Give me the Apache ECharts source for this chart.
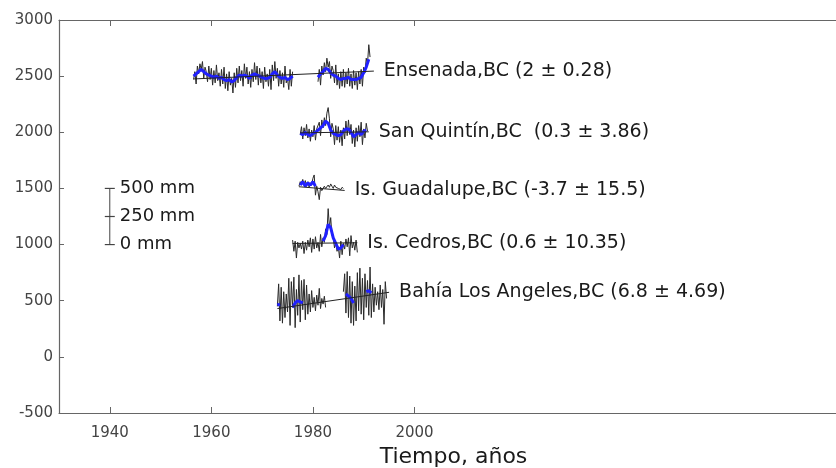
<!DOCTYPE html>
<html>
<head>
<meta charset="utf-8">
<script src="https://cdn.jsdelivr.net/npm/echarts@6/dist/echarts.min.js"></script>
<style>
  html, body { margin: 0; padding: 0; background: #fff; }
  #chart { width: 836px; height: 468px; }
</style>
</head>
<body>
<div id="chart"></div>
<script>
function gap(n) { return new Array(n).fill(null); }

// anomalias en mm, paso trimestral (negro) y semestral (azul)
const ensenadaRaw = [
  -30, 40,
  -70, 90, 20, 110,   60, 130, -20, 80,   40, -50, 90, -30,   70, -80, 50, -60,
  100, -40, 30, -90,  60, -70, 80, -110,  20, -130, 40, -80,  -20, -150, 30, -100,
  70, -60, 90, -40,   50, -90, 110, -20,  80, -70, 40, -100,  60, -50, 120, -30,
  90, -80, 70, -60,   40, -110, 80, -50, 20, -90, 60, -120,  100, -40, 130, -20,
  70, -90, 50, -70,   30, -100, 90, -60, -20, -120, 60, -90,
  40,
  ...gap(19),
  -50, 60, -80, 90,   10, 120, 40, 160,  80, 130, -20, 90,   50, -60, 100, -80,
  20, -110, 40, -90,  60, -100, 30, -70, 70, -90, 20, -110,  50, -80, 30, -120,
  40, -70, 60, -90,   80, 30, 160, 110,
  280, 170
];
const ensenadaSmooth = [
  0,
  20, 40,  60, 40,  20, 10,  0, -10,  0, -20,  -10, -30,  -40, -30,  -50, -40,
  -10, 10,  0, 10,  0, -20,  10, 20,  10, 0,  -10, -20,  -20, -10,  20, 40,
  10, -10,  -20, -10,  -30, -20,
  0,
  ...gap(9),
  -10, 20,  40, 70,  60, 30,  10, 0,  -20, -30,  -20, -20,  -10, -30,  -30, -30,
  -20, -10,  30, 80,
  150
];

const quintinRaw = [
  -20, 50,
  -60, 40, -30, 70,   -50, 30, -80, 20,  -40, 60, -70, 30,   20, 90, -30, 110,
  40, 130, 60, 170,   220, 120, -40, 80, 30, -110, 60, -70,  50, -90, 20, -120,
  40, -60, 100, -30,  110, -20, 70, -100, 20, -130, 40, -80, 60, -40, 90, -110,
  30, -50, 80, 10
];
const quintinSmooth = [
  -10,
  -20, 0,  -20, -30,  -10, 0,  20, 40,  60, 100,  80, 20,  -10, -20,
  -30, -20,  10, 30,  30, 0,  -40, -20,  0, -20,  10, 20
];

const guadalupeRaw = [
  20, 60, 40,
  80, 30, 70, 20,   60, 10, 50, 30,   90, 120, -60, 20,  -30, -100, 10, -20,
  -10, 20, 0, 10,   30, 10, 40, 20,   0, 30, 10, 20,     0, 10, -10, 10,
  0
];
const guadalupeSmooth = [30, 60, 20, 50, 30, 60, 20];

const cedrosRaw = [
  40, -60, 30, -120,  20, -30, 10, -40,  30, -80, 20, -50,  40, -20, 60, -70,
  50, -40, 70, -30,   20, -60, 90, -20,  60, 20, 140, 90,   320, 150, 240, 80,
  60, -30, 20, -60,   -20, -120, 30, -90, 10, -40, 50, -20, 60, -100, 80, -30,
  20, -50, 40, -70
];
const cedrosSmooth = [30, 80, 180, 150, 60, 10, -40, -30, 0];

const bahiaRaw = [
  -50, 150, -180, 120,  -200, 80, -150, 60,  -100, 200, -220, 170,
  -60, 210, -240, 100,  -130, 230, -190, 180, -80, 190, -170, 140,
  -120, 60, -100, 90,   -60, 30, -90, 50,    -40, 110, -70, 20,
  -30, 40, -60,
  ...gap(13),
  80, 240, -110, 260,   -150, 220, -200, 170, -220, 130, -180, 250,
  -90, 290, -120, 200,  -170, 240, -60, 180,  -130, 300, -150, 150,
  -100, 120, -40, 80,   -80, 140, -60, 100,
  -210, 170, 20
];
const bahiaSmooth = [
  -40, -30,
  ...gap(4),
  -60, -20,  0, -10,  -20,
  ...gap(16),
  60,  40, 20,  -20,
  ...gap(4),
  80,  90, 70
];

// estaciones: nombre, nivel base, inicio serie negra, inicio serie azul, tendencia
const stations = [
  { label: 'Ensenada,BC (2 ± 0.28)', base: 2500, raw: ensenadaRaw, rawStart: 1956.5,
    smooth: ensenadaSmooth, smoothStart: 1956.5, trend: [[1956.5, 2475], [1992, 2545]] },
  { label: 'San Quintín,BC  (0.3 ± 3.86)', base: 2000, raw: quintinRaw, rawStart: 1977.5,
    smooth: quintinSmooth, smoothStart: 1977.5, trend: [[1977.5, 1995], [1991, 2004]] },
  { label: 'Is. Guadalupe,BC (-3.7 ± 15.5)', base: 1500, raw: guadalupeRaw, rawStart: 1977.25,
    smooth: guadalupeSmooth, smoothStart: 1977.5, trend: [[1977.25, 1515], [1986.25, 1482]] },
  { label: 'Is. Cedros,BC (0.6 ± 10.35)', base: 1000, raw: cedrosRaw, rawStart: 1976,
    smooth: cedrosSmooth, smoothStart: 1982, trend: [[1976, 1010], [1988.75, 1016]] },
  { label: 'Bahía Los Angeles,BC (6.8 ± 4.69)', base: 500, raw: bahiaRaw, rawStart: 1973,
    smooth: bahiaSmooth, smoothStart: 1973, trend: [[1973, 430], [1995, 575]] }
];

const xTicks = [1940, 1960, 1980, 2000];
const scaleBar = [0, 250, 500];   // mm
const scaleBarBase = 1000;
const scaleBarYear = 1940;

function toPoints(start, step, base, values) {
  return values.map((v, i) => [start + i * step, v == null ? null : base + v]);
}

const font = 'DejaVu Sans';
let series = [];

stations.forEach((s) => {
  series.push({
    type: 'line', symbol: 'none', silent: true,
    data: toPoints(s.rawStart, 0.25, s.base, s.raw),
    lineStyle: { color: '#2a2a2a', width: 1 }
  });
  series.push({
    type: 'line', symbol: 'none', silent: true,
    data: toPoints(s.smoothStart, 0.5, s.base, s.smooth),
    lineStyle: { color: '#2020ff', width: 3 }
  });
  series.push({
    type: 'line', symbol: 'none', silent: true,
    data: s.trend,
    lineStyle: { color: '#222', width: 1 },
    endLabel: {
      show: true, formatter: s.label, distance: 10,
      fontFamily: font, fontSize: 19, color: '#1a1a1a'
    }
  });
});

// barra de escala
series.push({
  type: 'line', symbol: 'none', silent: true,
  data: [[scaleBarYear, scaleBarBase], [scaleBarYear, scaleBarBase + scaleBar[scaleBar.length - 1]]],
  lineStyle: { color: '#444', width: 1 }
});
series.push({
  type: 'scatter', silent: true,
  symbol: 'rect', symbolSize: [10, 1.2],
  itemStyle: { color: '#444', opacity: 1 },
  data: scaleBar.map((v) => [scaleBarYear, scaleBarBase + v]),
  label: {
    show: true, position: 'right', distance: 5,
    formatter: (p) => (p.value[1] - scaleBarBase) + ' mm',
    fontFamily: font, fontSize: 18, color: '#1a1a1a'
  }
});

const axisColor = '#666';
const plain = (v) => String(v);
const option = {
  animation: false,
  backgroundColor: '#fff',
  grid: { left: 59, right: 0, top: 20, bottom: 55, outerBoundsMode: 'none', containLabel: false },
  xAxis: [
    {
      type: 'value', position: 'bottom', min: 1930, max: 2083,
      name: 'Tiempo, años', nameLocation: 'middle', nameGap: 27,
      nameTextStyle: { fontFamily: font, fontSize: 22, color: '#1a1a1a', padding: [0, 0, 0, 12] },
      axisLine: { show: true, onZero: false, lineStyle: { color: axisColor, width: 1.2 } },
      axisTick: { inside: true, length: 6, customValues: xTicks, lineStyle: { color: axisColor } },
      axisLabel: { customValues: xTicks, formatter: plain, margin: 13, fontFamily: font, fontSize: 15, color: '#444' },
      splitLine: { show: false }
    },
    {
      type: 'value', position: 'top', min: 1930, max: 2083,
      axisLine: { show: true, onZero: false, lineStyle: { color: axisColor, width: 1.2 } },
      axisTick: { inside: true, length: 6, customValues: xTicks, lineStyle: { color: axisColor } },
      axisLabel: { show: false },
      splitLine: { show: false }
    }
  ],
  yAxis: {
    type: 'value', min: -500, max: 3000, interval: 500,
    axisLine: { show: true, onZero: false, lineStyle: { color: axisColor, width: 1.2 } },
    axisTick: { show: true, inside: true, length: 5, lineStyle: { color: axisColor } },
    axisLabel: { formatter: plain, margin: 6, fontFamily: font, fontSize: 15, color: '#444' },
    splitLine: { show: false }
  },
  series: series
};

const myChart = echarts.init(document.getElementById('chart'));
myChart.setOption(option);
</script>
</body>
</html>
